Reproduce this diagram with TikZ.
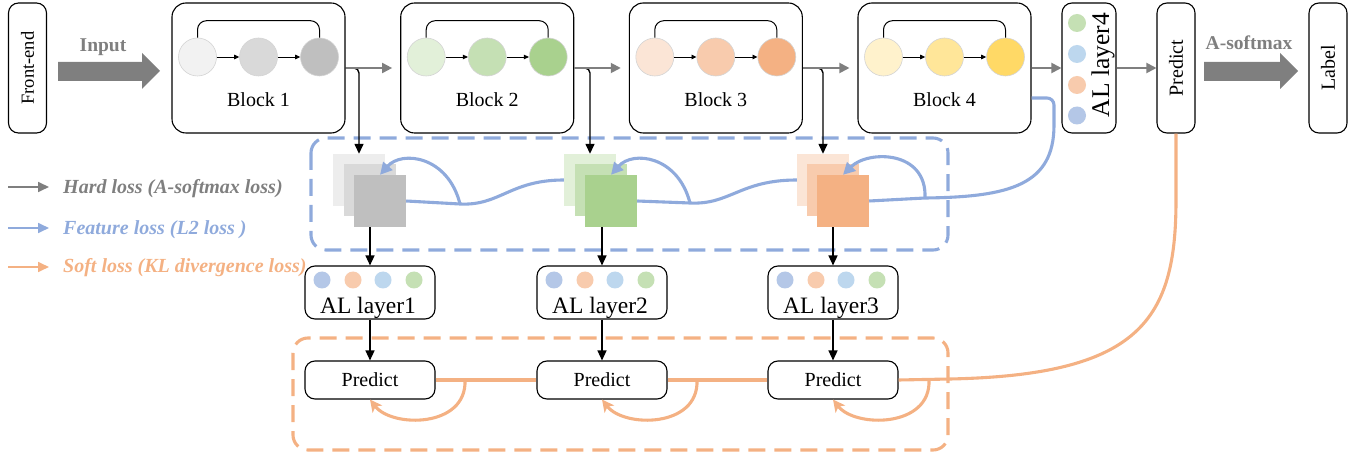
\documentclass[tikz,border=0pt]{standalone}
\usepackage{fontspec}
\setmainfont{Liberation Serif}
\usetikzlibrary{arrows.meta}
\definecolor{myGray}{HTML}{7F7F7F}
\definecolor{myBlue}{HTML}{8FAADC}
\definecolor{myOrange}{HTML}{F4B183}
\definecolor{gA}{HTML}{F2F2F2}\definecolor{gB}{HTML}{D9D9D9}\definecolor{gC}{HTML}{BFBFBF}
\definecolor{gsqA}{HTML}{EDEDED}
\definecolor{nA}{HTML}{E2F0D9}\definecolor{nB}{HTML}{C5E0B4}\definecolor{nC}{HTML}{A9D18E}
\definecolor{oA}{HTML}{FBE5D6}\definecolor{oB}{HTML}{F8CBAD}\definecolor{oC}{HTML}{F4B183}
\definecolor{yA}{HTML}{FFF2CC}\definecolor{yB}{HTML}{FFE699}\definecolor{yC}{HTML}{FFD966}
\definecolor{dLav}{HTML}{B4C7E7}\definecolor{dPeach}{HTML}{F8CBAD}\definecolor{dLBlue}{HTML}{BDD7EE}\definecolor{dGreen}{HTML}{C5E0B4}
\begin{document}
\begin{tikzpicture}[x=1pt,y=-1pt,
  box/.style={draw=black, line width=1.1pt, fill=white, inner sep=0pt},
  block/.style={box, rounded corners=14pt, minimum width=173pt, minimum height=130pt},
  vbox/.style={box, rounded corners=10pt, minimum width=38pt, minimum height=130pt},
  circ/.style={circle, draw=black!17, line width=0.6pt, minimum size=38pt, inner sep=0pt},
  dot/.style={circle, minimum size=18pt, inner sep=0pt},
  sq/.style={minimum size=52pt, inner sep=0pt},
  albox/.style={box, rounded corners=10pt, minimum width=130pt, minimum height=53pt},
  pbox/.style={box, rounded corners=10pt, minimum width=130pt, minimum height=38pt},
  txt/.style={font=\fontsize{20}{23}\selectfont, inner sep=0pt},
  bigtxt/.style={font=\fontsize{23.5}{27}\selectfont, inner sep=0pt},
  gtxt/.style={font=\fontsize{19.5}{22}\selectfont\bfseries, text=myGray, inner sep=0pt},
  legtxt/.style={font=\fontsize{20}{23}\selectfont\bfseries\itshape, inner sep=0pt, anchor=west},
  garrow/.style={draw=myGray, line width=1.9pt, -{Triangle[length=10pt,width=10pt]}},
  barrow/.style={draw=black, line width=1.4pt, -{Triangle[length=10pt,width=9pt]}},
  legarrow/.style={line width=1.7pt, -{Triangle[length=11pt,width=10pt]}},
  blueline/.style={draw=myBlue, line width=3.1pt},
  bluearrow/.style={blueline, -{Triangle[length=12pt,width=12pt]}},
  orangeline/.style={draw=myOrange, line width=3.1pt},
  orangearrow/.style={orangeline, -{Stealth[length=12pt,width=12pt,inset=3pt]}},
  dashbox/.style={line width=3.1pt, dash pattern=on 17pt off 9pt, rounded corners=15pt}
]
\useasboundingbox (0,0) rectangle (1357,454);

% dashed groups
\draw[dashbox, draw=myBlue] (311,138) rectangle (948,250);
\draw[dashbox, draw=myOrange] (293,338) rectangle (948,450);

% top row boxes
\node[vbox] (fe) at (27.5,68) {};
\node[txt, font=\fontsize{18.5}{22}\selectfont, rotate=90] (fet) at (27.5,68) {Front-end};
\node[block] (b1) at (258.5,68) {};
\node[block] (b2) at (487.2,68) {};
\node[block] (b3) at (715.8,68) {};
\node[block] (b4) at (944.5,68) {};
\node[box, rounded corners=10pt, minimum width=54pt, minimum height=130pt] (al4) at (1089,68) {};
\node[vbox] (ptop) at (1176,68) {};
\node[txt, rotate=90] (ptopt) at (1176,68) {Predict};
\node[vbox] (lab) at (1328,68) {};
\node[txt, rotate=90] (labt) at (1328,68) {Label};

% block contents
\foreach \b/\cx/\ca/\cb/\cc/\n in {1/258.5/gA/gB/gC/1, 2/487.2/nA/nB/nC/2, 3/715.8/oA/oB/oC/3, 4/944.5/yA/yB/yC/4}{
  \node[circ, fill=\ca] (c\b1) at (\cx-61,57) {};
  \node[circ, fill=\cb] (c\b2) at (\cx,57) {};
  \node[circ, fill=\cc] (c\b3) at (\cx+61,57) {};
  \draw[line width=0.9pt, -{Triangle[length=5pt,width=4.5pt]}] (c\b1) -- (c\b2);
  \draw[line width=0.9pt, -{Triangle[length=5pt,width=4.5pt]}] (c\b2) -- (c\b3);
  \draw[line width=1pt, rounded corners=9pt] (c\b1.north) -- ([yshift=17pt]c\b1.north) -| (c\b3.north);
  \node[txt, anchor=base] (bl\b) at (\cx,107) {Block \n};
}

% AL layer4 contents
\node[dot, fill=dGreen] (a41) at (1077,23) {};
\node[dot, fill=dLBlue] (a42) at (1077,54) {};
\node[dot, fill=dPeach] (a43) at (1077,85) {};
\node[dot, fill=dLav] (a44) at (1077,115.5) {};
\node[font=\fontsize{25.5}{28}\selectfont, inner sep=0pt, rotate=90] (al4t) at (1103,65) {AL layer4};

% big arrows
\fill[myGray] (58,62) -- (142,62) -- (142,53) -- (160,71) -- (142,89) -- (142,81) -- (58,81) -- cycle;
\node[gtxt] (inp) at (103,47) {Input};
\fill[myGray] (1204,62) -- (1280,62) -- (1280,53) -- (1298,71) -- (1280,89) -- (1280,81) -- (1204,81) -- cycle;
\node[gtxt] (asm) at (1249,43) {A-softmax};

% squares
\node[sq, fill=gsqA] (s1a) at (359,180) {};
\node[sq, fill=gB] (s1b) at (369.5,190.5) {};
\node[sq, fill=gC] (s1c) at (380,201) {};
\node[sq, fill=nA] (s2a) at (590,180) {};
\node[sq, fill=nB] (s2b) at (600.5,190.5) {};
\node[sq, fill=nC] (s2c) at (611,201) {};
\node[sq, fill=oA] (s3a) at (823,180) {};
\node[sq, fill=oB] (s3b) at (833,190.5) {};
\node[sq, fill=oC] (s3c) at (843,201) {};

% AL layers and predicts
\foreach \i/\x in {1/370, 2/602, 3/833}{
  \node[albox] (al\i) at (\x,292.5) {};
  \node[dot, minimum size=17pt, fill=dLav] (d\i1) at (\x-48,280) {};
  \node[dot, minimum size=17pt, fill=dPeach] (d\i2) at (\x-17,280) {};
  \node[dot, minimum size=17pt, fill=dLBlue] (d\i3) at (\x+13,280) {};
  \node[dot, minimum size=17pt, fill=dGreen] (d\i4) at (\x+44,280) {};
  \node[bigtxt, anchor=base] (alt\i) at (\x-2,313) {AL layer\i};
  \node[pbox] (p\i) at (\x,380) {};
  \node[txt] (pt\i) at (\x,380) {Predict};
  \draw[barrow] (al\i.north |- s\i c.south) -- (al\i.north);
  \draw[barrow] (al\i.south) -- (p\i.north);
}

% top connectors
\draw[barrow, rounded corners=5pt] (b1.east) -| (s1a.north);
\draw[barrow, rounded corners=5pt] (b2.east) -| (s2a.north);
\draw[barrow, rounded corners=5pt] (b3.east) -| (s3a.north);
\draw[garrow] (b1.east) -- ([xshift=-8pt]b2.west);
\draw[garrow] (b2.east) -- ([xshift=-8pt]b3.west);
\draw[garrow] (b3.east) -- ([xshift=-8pt]b4.west);
\draw[garrow] (b4.east) -- (al4.west);
\draw[garrow] (al4.east) -- (ptop.west);

% feature loss (blue)
\coordinate (j1) at (460,204);
\coordinate (j2) at (690,203);
\coordinate (j3) at (925,198);
\coordinate (j4) at (1054,125);
\coordinate (j5) at (1054,98);
\draw[blueline] (s1c.east) -- (j1) .. controls (500,206) and (510,180) .. (s2a.west);
\draw[bluearrow] (j1) .. controls (448,156) and (402,150) .. (s1c.north);
\draw[blueline] (s2c.east) -- (j2) .. controls (730,205) and (740,180) .. (s3a.west);
\draw[bluearrow] (j2) .. controls (678,156) and (633,150) .. (s2c.north);
\draw[blueline] (s3c.east) -- (j3) .. controls (1010,197) and (1054,185) .. (j4) [rounded corners=7pt] -- (j5) -- (b4.east |- j5);
\draw[bluearrow] (j3) .. controls (927,150) and (868,150) .. (s3c.north);

% soft loss (orange)
\coordinate (k1) at (465,380);
\coordinate (k2) at (697,380);
\coordinate (k3) at (929,380);
\coordinate (k4) at (950,379);
\coordinate (k5) at (1176,200);
\draw[orangeline] (p1.east) -- (p2.west);
\draw[orangeline] (p2.east) -- (p3.west);
\draw[orangeline] (p3.east) -- (k4) .. controls (1140,375) and (1176,320) .. (k5) -- (ptop.south);
\draw[orangearrow] (k1) .. controls (467,428) and (392,428) .. (p1.south);
\draw[orangearrow] (k2) .. controls (699,428) and (624,428) .. (p2.south);
\draw[orangearrow] (k3) .. controls (931,428) and (855,428) .. (p3.south);

% legend
\coordinate (l1a) at (8,187); \coordinate (l1b) at (49,187);
\coordinate (l2a) at (8,228); \coordinate (l2b) at (49,228);
\coordinate (l3a) at (8,267); \coordinate (l3b) at (49,267);
\draw[legarrow, draw=myGray, fill=myGray] (l1a) -- (l1b);
\draw[legarrow, draw=myBlue, fill=myBlue] (l2a) -- (l2b);
\draw[legarrow, draw=myOrange, fill=myOrange] (l3a) -- (l3b);
\node[legtxt, text=myGray] (lg1) at (63,189) {Hard loss (A-softmax loss)};
\node[legtxt, text=myBlue] (lg2) at (63,230) {Feature loss (L2 loss )};
\node[legtxt, text=myOrange] (lg3) at (63,268) {Soft loss (KL divergence loss)};
\end{tikzpicture}
\end{document}
